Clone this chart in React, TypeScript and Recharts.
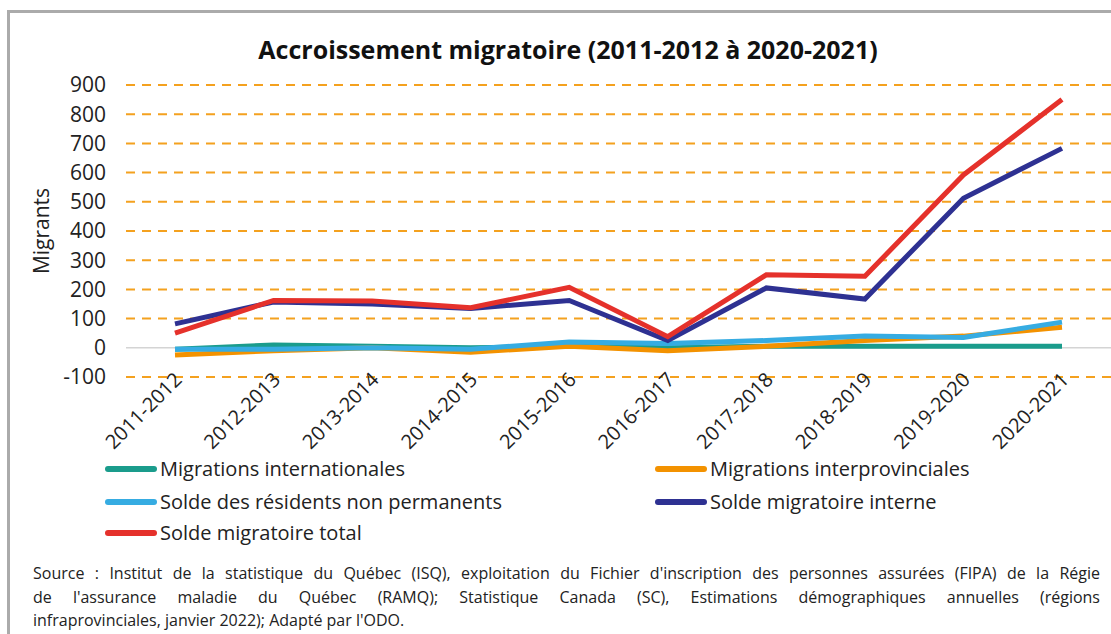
import React from 'react';
import { LineChart, Line, XAxis, YAxis, ReferenceLine } from 'recharts';

const periods = [
    '2011-2012', '2012-2013', '2013-2014', '2014-2015', '2015-2016',
    '2016-2017', '2017-2018', '2018-2019', '2019-2020', '2020-2021'
];

const internationales = [-5, 10, 5, 0, 5, 0, 5, 5, 5, 5];
const interprovinciales = [-25, -10, 0, -15, 5, -10, 5, 25, 40, 70];
const nonPermanents = [-5, -5, 0, -5, 20, 15, 25, 40, 35, 88];
const interne = [82, 157, 150, 135, 162, 25, 205, 167, 512, 683];
const total = [50, 162, 160, 137, 207, 38, 250, 245, 592, 850];

const yTicks = [-100, 0, 100, 200, 300, 400, 500, 600, 700, 800, 900];

const series = [
    { key: 'intl', name: 'Migrations internationales', color: '#1a9c8c', values: internationales },
    { key: 'inter', name: 'Migrations interprovinciales', color: '#f39200', values: interprovinciales },
    { key: 'rnp', name: 'Solde des résidents non permanents', color: '#36ace2', values: nonPermanents },
    { key: 'interne', name: 'Solde migratoire interne', color: '#2e3192', values: interne },
    { key: 'total', name: 'Solde migratoire total', color: '#e5312b', values: total },
];

const sourceLines = [
    "Source : Institut de la statistique du Québec (ISQ), exploitation du Fichier d'inscription des personnes assurées (FIPA) de la Régie",
    "de l'assurance maladie du Québec (RAMQ); Statistique Canada (SC), Estimations démographiques annuelles (régions",
    "infraprovinciales, janvier 2022); Adapté par l'ODO.",
];

const data = periods.map((p, i) => {
    const row: Record<string, string | number> = { period: p };
    series.forEach(s => { row[s.key] = s.values[i]; });
    return row;
});

const FONT = "'Open Sans', sans-serif";

const PeriodTick = (props: any) => {
    const { x, y, payload } = props;
    const tx = x + 8;
    const ty = y - 4;
    return (
        <text
            x={tx}
            y={ty}
            transform={`rotate(-45, ${tx}, ${ty})`}
            textAnchor="end"
            fontSize={20}
            fill="#222"
            fontFamily={FONT}
        >
            {payload.value}
        </text>
    );
};

const legendPos = [
    { left: 105, top: 455 },
    { left: 655, top: 455 },
    { left: 105, top: 488 },
    { left: 655, top: 488 },
    { left: 105, top: 519 },
];

export default function App() {
    return (
        <div style={{ position: 'absolute', left: 0, top: 0, width: 1111, height: 634, background: '#fff', overflow: 'hidden', fontFamily: FONT }}>
            <div style={{ position: 'absolute', left: 7, top: 10, width: 1200, height: 700, border: '3px solid #ababab', boxSizing: 'border-box' }} />
            <div style={{ position: 'absolute', left: 0, top: 32, width: 1136, textAlign: 'center', fontSize: 25, fontWeight: 'bold', color: '#111' }}>
                Accroissement migratoire (2011-2012 à 2020-2021)
            </div>
            <div style={{ position: 'absolute', left: 0, top: 0 }}>
                <LineChart width={1111} height={480} data={data} margin={{ top: 85, right: 0, left: 0, bottom: 0 }}>
                    {yTicks.map(t => (
                        <ReferenceLine
                            key={t}
                            y={t}
                            stroke={t === 0 ? '#d4d4d4' : '#f4a11f'}
                            strokeWidth={t === 0 ? 1.5 : 2}
                            strokeDasharray={t === 0 ? undefined : '9 7'}
                        />
                    ))}
                    <XAxis
                        dataKey="period"
                        axisLine={false}
                        tickLine={false}
                        height={103}
                        interval={0}
                        padding={{ left: 49, right: 49 }}
                        tick={<PeriodTick />}
                    />
                    <YAxis
                        domain={[-100, 900]}
                        ticks={yTicks}
                        interval={0}
                        width={126}
                        axisLine={false}
                        tickLine={false}
                        tickSize={0}
                        tickMargin={20}
                        tick={{ fontSize: 21, fill: '#222', fontFamily: FONT }}
                        label={{ value: 'Migrants', angle: -90, position: 'insideLeft', offset: 42, style: { fontSize: 21, fill: '#222', fontFamily: FONT, textAnchor: 'middle' } }}
                    />
                    {series.map(s => (
                        <Line
                            key={s.key}
                            dataKey={s.key}
                            name={s.name}
                            stroke={s.color}
                            strokeWidth={5}
                            dot={false}
                            type="linear"
                            isAnimationActive={false}
                        />
                    ))}
                </LineChart>
            </div>
            {series.map((s, i) => (
                <div key={s.key} style={{ position: 'absolute', left: legendPos[i].left, top: legendPos[i].top, display: 'flex', alignItems: 'center', fontSize: 20, color: '#222' }}>
                    <span style={{ display: 'inline-block', width: 52, height: 6, borderRadius: 3, background: s.color, marginRight: 3 }} />
                    {s.name}
                </div>
            ))}
            <div style={{ position: 'absolute', left: 33, top: 562, width: 1067, fontSize: 16, lineHeight: '23.5px', color: '#222' }}>
                {sourceLines.map((l, i) => (
                    <div key={i} style={{ textAlign: 'justify', textAlignLast: i < sourceLines.length - 1 ? 'justify' : 'left', whiteSpace: 'nowrap' }}>
                        {l}
                    </div>
                ))}
            </div>
        </div>
    );
}
